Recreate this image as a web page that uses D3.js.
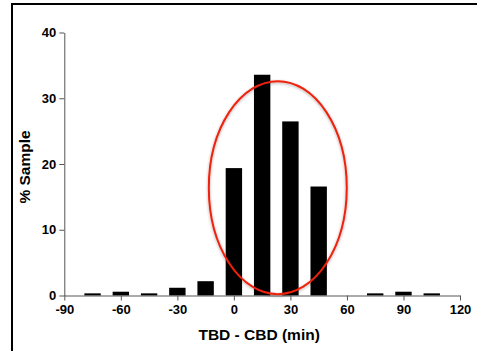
<!DOCTYPE html>
<html>
<head>
<meta charset="utf-8">
<script src="https://cdn.jsdelivr.net/npm/d3@7"></script>
<style>
  body { margin: 0; background: #fff; }
  .tick text { font-family: Arial, "Liberation Sans", sans-serif; font-weight: bold; font-size: 13px; fill: #000; }
  .axis path, .axis line { stroke: #555; }
  .title { font-family: Arial, "Liberation Sans", sans-serif; font-weight: bold; font-size: 15.5px; fill: #000; }
</style>
</head>
<body>
<div id="chart"></div>
<script>
// bin centres (min) and % of sample
const bins = [-75, -60, -45, -30, -15, 0, 15, 30, 45, 60, 75, 90, 105];
const percents = [0.25, 0.5, 0.25, 1.1, 2.1, 19.3, 33.5, 26.4, 16.5, 0, 0.25, 0.5, 0.25];
const xTicks = [-90, -60, -30, 0, 30, 60, 90, 120];
const yTicks = [0, 10, 20, 30, 40];
// highlighted region (data units)
const highlight = { cx: 23.3, cy: 16.4, rx: 36.6, ry: 16.2 };

const W = 477, H = 351;
const margin = { top: 32.5, right: 17, bottom: 55.5, left: 64.3 };
const width = W - margin.left - margin.right;
const height = H - margin.top - margin.bottom;

const root = d3.select('#chart').append('svg')
  .attr('width', W)
  .attr('height', H);

// frame (left + top edges)
root.append('path')
  .attr('d', `M12,${H} L12,4 L${W},4`)
  .attr('fill', 'none')
  .attr('stroke', '#000')
  .attr('stroke-width', 2);

const svg = root.append('g')
  .attr('transform', `translate(${margin.left},${margin.top})`);

const x = d3.scaleLinear().domain([-90, 120]).range([0, width]);
const y = d3.scaleLinear().domain([0, 40]).range([height, 0]);

const barW = x(8.7) - x(0);

svg.selectAll('rect.bar')
  .data(bins.map((b, i) => ({ b, v: percents[i] })).filter(d => d.v > 0))
  .enter().append('rect')
  .attr('class', 'bar')
  .attr('x', d => x(d.b) - barW / 2)
  .attr('y', d => y(d.v) - 0.5)
  .attr('width', barW)
  .attr('height', d => height - y(d.v) + 0.5)
  .attr('fill', '#000');

// Axes
svg.append('g')
  .attr('class', 'axis')
  .attr('transform', `translate(0,${height})`)
  .call(d3.axisBottom(x).tickValues(xTicks).tickFormat(d => String(d)).tickSize(5).tickPadding(4).tickSizeOuter(0));

svg.append('g')
  .attr('class', 'axis')
  .call(d3.axisLeft(y).tickValues(yTicks).tickFormat(d => String(d)).tickSize(5).tickPadding(3).tickSizeOuter(0));

// ellipse
const defs = root.append('defs');
const f = defs.append('filter').attr('id', 'glow').attr('x', '-20%').attr('y', '-20%').attr('width', '140%').attr('height', '140%');
f.append('feGaussianBlur').attr('in', 'SourceAlpha').attr('stdDeviation', 1.5).attr('result', 'b');
f.append('feOffset').attr('in', 'b').attr('dx', 0).attr('dy', 1).attr('result', 'o');
f.append('feComponentTransfer').attr('in', 'o').attr('result', 'sh')
  .append('feFuncA').attr('type', 'linear').attr('slope', 0.35);
const m = f.append('feMerge');
m.append('feMergeNode').attr('in', 'sh');
m.append('feMergeNode').attr('in', 'SourceGraphic');

svg.append('ellipse')
  .attr('cx', x(highlight.cx))
  .attr('cy', y(highlight.cy))
  .attr('rx', x(highlight.cx + highlight.rx) - x(highlight.cx))
  .attr('ry', y(0) - y(highlight.ry))
  .attr('fill', 'none')
  .attr('stroke', '#f0200a')
  .attr('stroke-width', 2)
  .attr('filter', 'url(#glow)');

// axis titles
svg.append('text')
  .attr('class', 'title')
  .attr('x', width / 2 - 3)
  .attr('y', height + 44)
  .attr('text-anchor', 'middle')
  .text('TBD - CBD (min)');

svg.append('text')
  .attr('class', 'title')
  .attr('transform', `translate(${-margin.left + 30},${height / 2 + 3}) rotate(-90)`)
  .attr('text-anchor', 'middle')
  .text('% Sample');
</script>
</body>
</html>
